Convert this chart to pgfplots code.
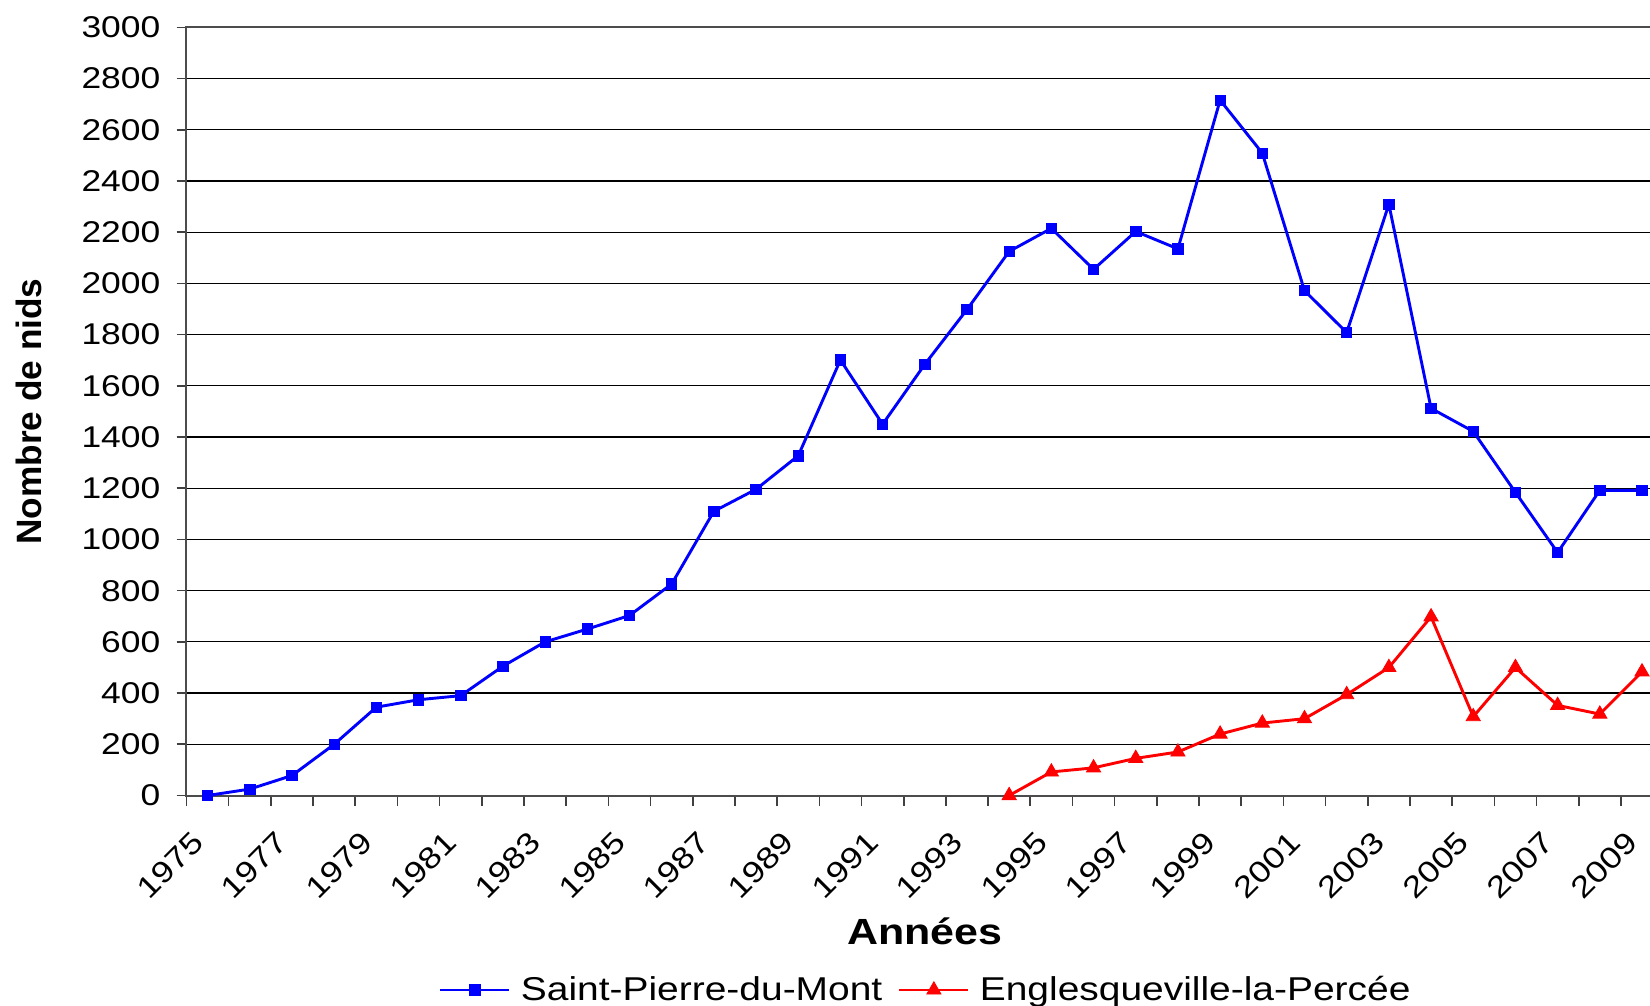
\documentclass[border=0pt]{standalone}
\usepackage{fontspec}
\setmainfont{Liberation Sans}[FakeStretch=1.18]
\newfontfamily\plainfont{Liberation Sans}
\usepackage{pgfplots}
\pgfplotsset{compat=1.18}

\begin{document}
\begin{tikzpicture}
\begin{axis}[
  at={(0,0)}, anchor=south west,
  scale only axis, width=738.3bp, height=384.05bp,
  xmin=1974.5, xmax=2009.5, ymin=0, ymax=3000,
  clip=false,
  ytick={0,200,...,3000},
  xtick={1975,1977,...,2009},
  minor xtick={1974.5,1975.5,...,2009.5},
  xtick pos=bottom, ytick pos=left,
  tick align=outside,
  major tick length=5bp, minor tick length=5bp,
  every major x tick/.append style={draw=none},
  tick style={black!75, line width=0.8bp},
  axis line style={black!70, line width=1bp},
  ymajorgrids, grid style={black, line width=0.6bp},
  /pgf/number format/assume math mode=true,
  /pgf/number format/1000 sep={},
  tick label style={font=\fontsize{15bp}{18bp}\selectfont},
  yticklabel style={anchor=east, inner sep=0pt, xshift=-7.9bp},
  xticklabel style={xshift=-4.7bp, yshift=-15.8bp, rotate=45, anchor=east, inner sep=0pt},
  xlabel={\bfseries Années},
  xlabel style={at={(axis description cs:0.5,-0.1937)}, anchor=base, font=\fontsize{18.2bp}{21bp}\selectfont},
  ylabel={\plainfont\bfseries Nombre de nids},
  ylabel style={at={(axis description cs:-0.0981,0.5)}, anchor=base, font=\fontsize{17.6bp}{20bp}\selectfont},
  legend style={at={(axis description cs:0.5,-0.2532)}, anchor=center, draw=none, fill=none,
    legend columns=2, font=\fontsize{16.5bp}{19bp}\selectfont, nodes={inner sep=0pt},
    /tikz/every odd column/.append style={column sep=5bp},
    /tikz/every even column/.append style={column sep=7.8bp}},
  legend image code/.code={\draw[mark repeat=2,mark phase=2,#1] plot coordinates {(0bp,0bp) (17.25bp,0bp) (34.5bp,0bp)};},
]
\addplot[blue, line width=1.45bp, mark=square*, mark size=2.6bp, mark options={solid, fill=blue, draw=blue, line width=0.4bp}]
coordinates {
(1975,0) (1976,25) (1977,78) (1978,200) (1979,345) (1980,374) (1981,390) (1982,505)
(1983,600) (1984,650) (1985,703) (1986,826) (1987,1110) (1988,1196) (1989,1327)
(1990,1701) (1991,1450) (1992,1684) (1993,1898) (1994,2125) (1995,2215) (1996,2055)
(1997,2203) (1998,2135) (1999,2716) (2000,2509) (2001,1972) (2002,1808) (2003,2309)
(2004,1512) (2005,1422) (2006,1184) (2007,949) (2008,1192) (2009,1192)
};
\addlegendentry{Saint-Pierre-du-Mont}
\addplot[red, line width=1.45bp, mark=triangle*, mark size=4.1bp, mark options={solid, fill=red, draw=red, line width=0.4bp}]
coordinates {
(1994,0) (1995,92) (1996,108) (1997,145) (1998,170) (1999,240) (2000,283) (2001,300)
(2002,394) (2003,500) (2004,698) (2005,308) (2006,500) (2007,352) (2008,318) (2009,483)
};
\addlegendentry{Englesqueville-la-Percée}
\end{axis}
\pgfresetboundingbox
\path[use as bounding box] (-93.25bp,-105.25bp) rectangle (731.75bp,397.75bp);
\end{tikzpicture}
\end{document}
